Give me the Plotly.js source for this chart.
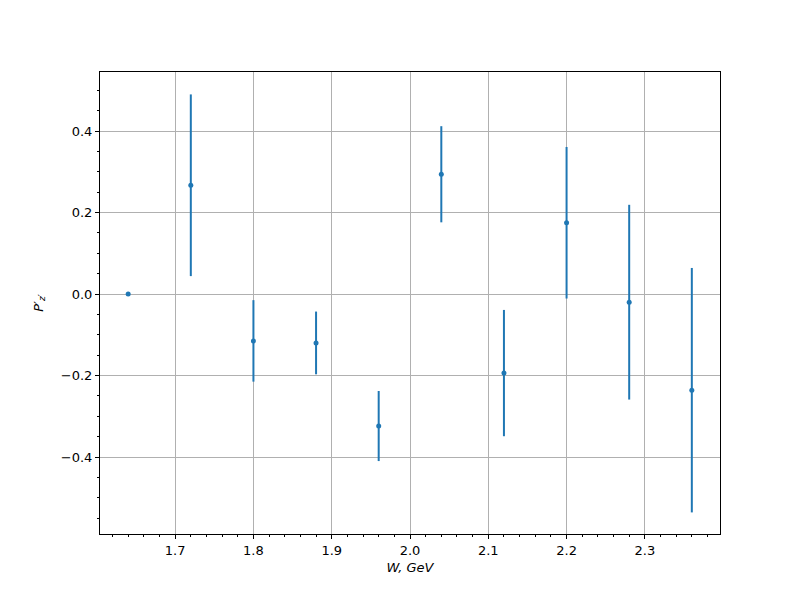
<!DOCTYPE html>
<html>
<head>
<meta charset="utf-8">
<script src="https://cdn.plot.ly/plotly-3.0.1.min.js"></script>
<style>body{margin:0;padding:0;}#chart{width:800px;height:600px;}</style>
</head>
<body>
<div id="chart"></div>
<script>
const W = [1.64, 1.72, 1.80, 1.88, 1.96, 2.04, 2.12, 2.20, 2.28, 2.36];
const Pz = [0.0, 0.267, -0.115, -0.120, -0.324, 0.294, -0.194, 0.175, -0.020, -0.236];
const Perr = [0.0, 0.223, 0.100, 0.077, 0.086, 0.118, 0.155, 0.186, 0.239, 0.300];

const trace = {
  x: W, y: Pz, type: 'scatter', mode: 'markers',
  marker: {color: '#1f77b4', size: 5},
  error_y: {type: 'data', array: Perr, visible: true, color: '#1f77b4', thickness: 2, width: 0}
};

const axisCommon = {
  showline: true, linecolor: 'black', linewidth: 1, mirror: true,
  ticks: 'outside', ticklen: 4, tickwidth: 1, tickcolor: 'black',
  showgrid: true, gridcolor: '#b0b0b0', gridwidth: 1, zeroline: false,
  tickfont: {family: 'DejaVu Sans', size: 13, color: 'black'}
};

const layout = {
  width: 800, height: 600,
  margin: {l: 100, r: 80, t: 72, b: 66},
  paper_bgcolor: 'white', plot_bgcolor: 'white',
  showlegend: false,
  xaxis: Object.assign({}, axisCommon, {
    range: [1.604, 2.396], tick0: 1.7, dtick: 0.1, tickformat: '.1f',
    minor: {dtick: 0.02, tick0: 1.6, ticks: 'outside', ticklen: 2, tickcolor: 'black', showgrid: false},
    title: {text: '<i>W, GeV</i>', font: {family: 'DejaVu Sans', size: 13, color: 'black'}, standoff: 6}
  }),
  yaxis: Object.assign({}, axisCommon, {
    range: [-0.589, 0.545], tick0: 0, dtick: 0.2, tickformat: '.1f',
    minor: {dtick: 0.05, tick0: 0, ticks: 'outside', ticklen: 2, tickcolor: 'black', showgrid: false},
    title: {text: "<i>P′<sub>z′</sub></i>", font: {family: 'DejaVu Sans', size: 13, color: 'black'}, standoff: 14}
  })
};

Plotly.newPlot('chart', [trace], layout, {displayModeBar: false});
</script>
</body>
</html>
